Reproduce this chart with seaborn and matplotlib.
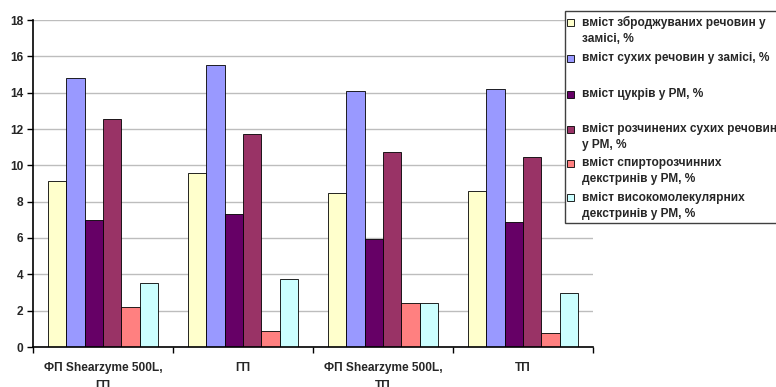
import numpy as np
import pandas as pd
import matplotlib
matplotlib.use('Agg')
import matplotlib.pyplot as plt
from matplotlib.patches import Rectangle
import seaborn as sns

groups = ['ФП Shearzyme 500L,\nГП', 'ГП', 'ФП Shearzyme 500L,\nТП', 'ТП']
series = ['вміст зброджуваних речовин у\nзамісі, %',
          'вміст сухих речовин у замісі, %',
          'вміст цукрів у РМ, %',
          'вміст розчинених сухих речовин\nу РМ, %',
          'вміст спирторозчинних\nдекстринів у РМ, %',
          'вміст високомолекулярних\nдекстринів у РМ, %']
fermentable = [9.15, 9.6, 8.45, 8.6]
dry_matter = [14.8, 15.55, 14.07, 14.2]
sugars = [7.0, 7.3, 5.95, 6.88]
dissolved = [12.55, 11.75, 10.72, 10.47]
alc_dextrins = [2.2, 0.88, 2.4, 0.78]
hmw_dextrins = [3.5, 3.75, 2.4, 2.95]
colors = ['#FFFFCC', '#9999FF', '#660066', '#993366', '#FF8080', '#CCFFFF']

values = [fermentable, dry_matter, sugars, dissolved, alc_dextrins, hmw_dextrins]
rows = []
for s, vals in zip(series, values):
    for g, v in zip(groups, vals):
        rows.append({'group': g, 'series': s, 'value': v})
df = pd.DataFrame(rows)

sns.set_style('white')
plt.rcParams['font.family'] = ['Liberation Sans', 'DejaVu Sans']
plt.rcParams['font.weight'] = 'bold'

fig = plt.figure(figsize=(7.76, 3.87), dpi=100)
ax = fig.add_axes([33 / 776, 40 / 387, 560 / 776, 327 / 387])

sns.barplot(data=df, x='group', y='value', hue='series', order=groups, hue_order=series,
            palette=colors, width=0.79, edgecolor='black', linewidth=0.6, saturation=1,
            legend=False, ax=ax, zorder=2)

ax.set_xlim(-0.5, 3.5)
ax.set_ylim(0, 18)
ax.set_yticks(np.arange(0, 19, 2))
ax.yaxis.grid(True, color='#BDBDBD', linewidth=1)
ax.set_axisbelow(True)
ax.set_xlabel('')
ax.set_ylabel('')
for sp in ['top', 'right']:
    ax.spines[sp].set_visible(False)
for sp in ['left', 'bottom']:
    ax.spines[sp].set_color('black')
    ax.spines[sp].set_linewidth(1.2)
    ax.spines[sp].set_zorder(3)

ax.set_xticks(range(len(groups)))
ax.set_xticklabels(groups, fontsize=8.6, fontweight='bold', linespacing=1.6)
ax.set_xticks(np.arange(-0.5, 4, 1), minor=True)
ax.tick_params(axis='x', which='major', length=0, pad=11)
ax.tick_params(axis='x', which='minor', length=4, width=1, color='black', direction='out', bottom=True)
ax.tick_params(axis='y', length=4, width=1, color='black', direction='out', left=True, pad=3, labelsize=8.6)
for t in ax.get_yticklabels():
    t.set_fontweight('bold')

# legend box, drawn by hand so entries keep even slots like the original
fig.patches.append(Rectangle((565 / 776, 1 - 223 / 387), 220 / 776, 212 / 387,
                             transform=fig.transFigure, facecolor='white',
                             edgecolor='#404040', linewidth=1, zorder=5))
ys = [22.7, 58.7, 94, 129, 163.5, 198]
for s, c, y in zip(series, colors, ys):
    fig.patches.append(Rectangle((567 / 776, 1 - (y + 3.5) / 387), 7 / 776, 7 / 387,
                                 transform=fig.transFigure, facecolor=c,
                                 edgecolor='black', linewidth=0.6, zorder=6))
    fig.text(582 / 776, 1 - (y - 6.5) / 387, s, fontsize=8.6, fontweight='bold',
             va='top', ha='left', linespacing=1.45, zorder=7)

fig.savefig('out.png', dpi=100)
